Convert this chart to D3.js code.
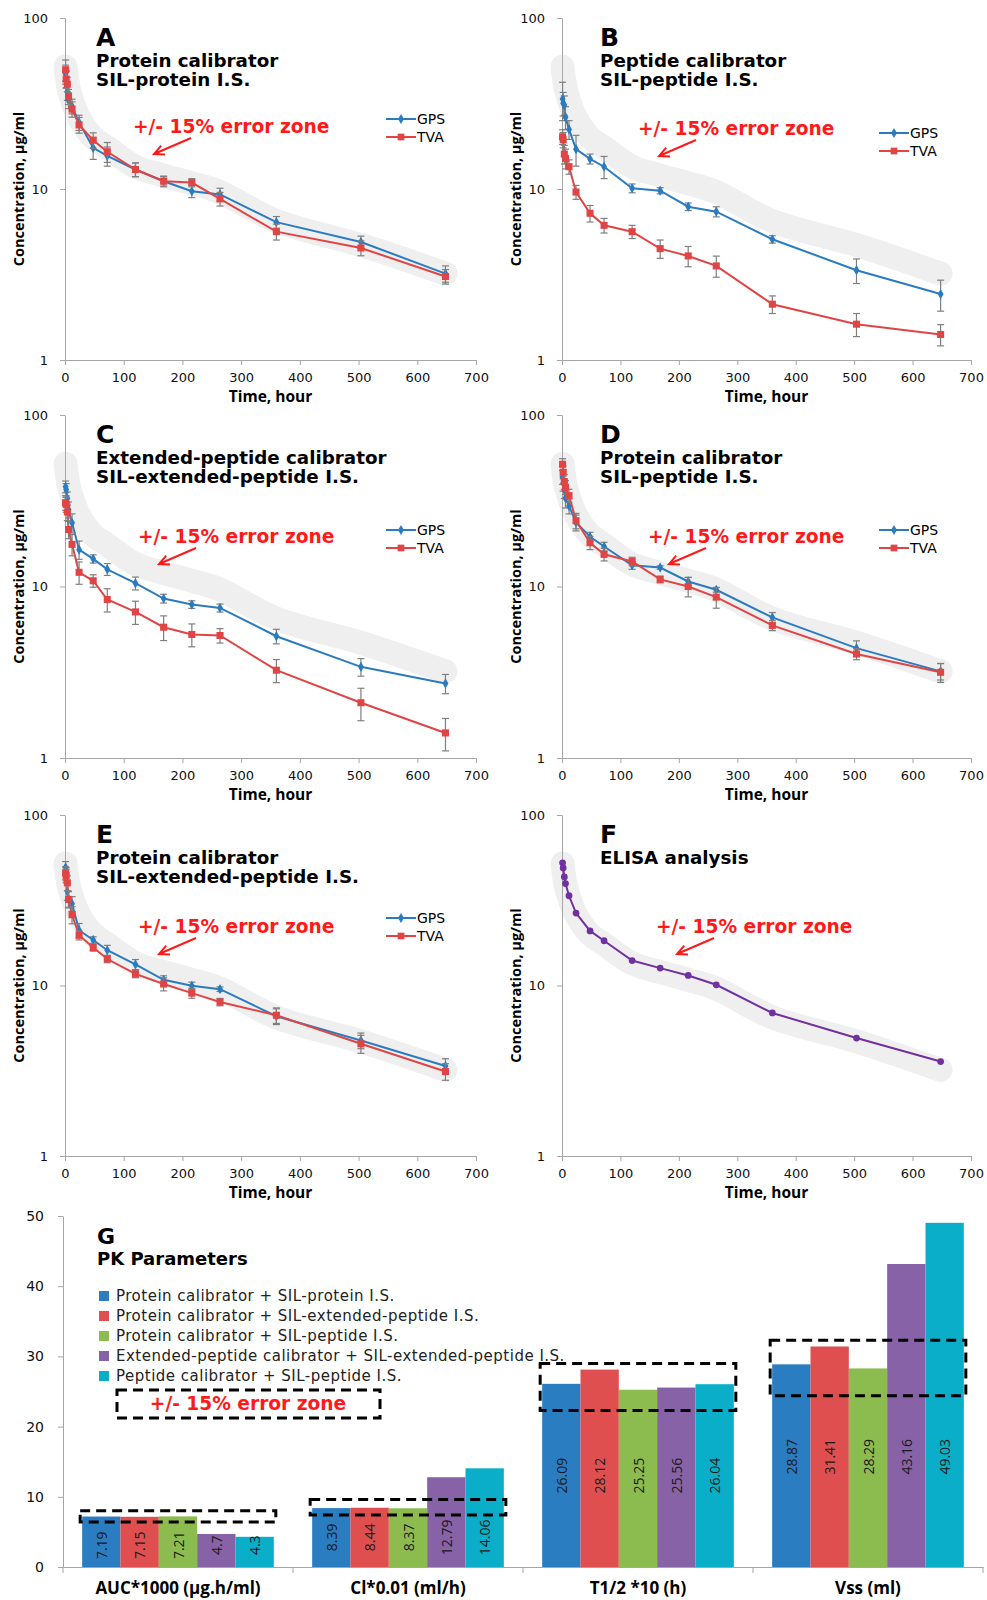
<!DOCTYPE html>
<meta charset="utf-8">
<head>
  <title>pk-panels</title>
</head>
<style>
  body { margin: 0; background: #fff; }
  .ax path, .ax line { stroke: #a6a6a6; }
  .ax text { font-family: "DejaVu Sans"; font-size: 13px; fill: #111; }
  .bax text { font-family: "DejaVu Sans"; font-size: 14px; fill: #111; }
  .cat text { font-family: "Open Sans"; font-weight: bold; font-size: 17px; fill: #000; }
</style>
<body>
<svg id="chart" width="987" height="1600"></svg>

<script src="https://cdnjs.cloudflare.com/ajax/libs/d3/7.8.5/d3.min.js"></script>
<script>
// sampling times (hours)
var times = [1, 2, 4, 6, 12, 24, 48, 72, 120, 168, 216, 264, 360, 504, 648];
var xTicks = [0, 100, 200, 300, 400, 500, 600, 700];
var yTicks = [1, 10, 100];

var elisa = [52.4, 48.9, 43.3, 39.6, 33.6, 26.6, 20.9, 18.3, 14.0, 12.65, 11.45, 10.1, 6.9, 4.92, 3.58];
// centre of the grey +/-15% band
var zoneCenter = [52, 48, 43, 39, 33, 26, 20, 17.5, 13.5, 12, 10.8, 9.6, 6.5, 4.7, 3.2];

var gpsA = [47, 44, 37, 33, 30.5, 24.5, 17.4, 15.6, 13.0, 11.1, 9.7, 9.3, 6.4, 4.9, 3.2];
var gpsAErr = [6, 5, 4, 3.5, 3, 2.5, 2.5, 2, 1.2, 0.8, 0.8, 0.8, 0.5, 0.4, 0.35];
var tvaA = [49.8, 43.9, 41.0, 34.7, 29.3, 23.7, 19.3, 16.5, 13.0, 11.1, 10.9, 8.75, 5.63, 4.52, 3.08];
var tvaAErr = [7, 5, 4, 3.5, 3, 2.5, 2, 2.2, 1.2, 0.7, 0.6, 0.8, 0.6, 0.45, 0.3];

var gpsB = [33.6, 31.7, 31.0, 26.3, 22.3, 17.1, 15.0, 13.5, 10.1, 9.78, 7.88, 7.37, 5.08, 3.35, 2.43];
var gpsBErr = [8.5, 5, 4, 4, 2.8, 3.5, 1, 2, 0.6, 0.4, 0.4, 0.5, 0.25, 0.55, 0.5];
var tvaB = [20.2, 19.4, 16.0, 15.1, 13.5, 9.6, 7.21, 6.13, 5.63, 4.48, 4.06, 3.55, 2.12, 1.62, 1.41];
var tvaBErr = [2, 2, 2, 2, 1.3, 0.9, 0.8, 0.6, 0.5, 0.55, 0.55, 0.5, 0.25, 0.25, 0.2];

var gpsC = [38.2, 36.8, 32.6, 28.1, 23.5, 16.4, 14.5, 12.6, 10.45, 8.51, 7.85, 7.5, 5.13, 3.40, 2.72];
var gpsCErr = [3, 3, 3, 3, 3, 2, 0.8, 1.0, 0.9, 0.5, 0.4, 0.4, 0.5, 0.4, 0.35];
var tvaC = [30.8, 30.1, 27.2, 21.5, 17.6, 12.1, 10.8, 8.4, 7.11, 5.79, 5.25, 5.18, 3.25, 2.10, 1.40];
var tvaCErr = [3, 3, 3, 2.5, 2.5, 1.8, 0.9, 1.3, 1.1, 0.95, 0.8, 0.5, 0.5, 0.45, 0.3];

var gpsD = [43.4, 40.0, 36.6, 32.7, 29.5, 23.6, 19.5, 17.1, 13.3, 12.9, 10.7, 9.57, 6.6, 4.37, 3.2];
var gpsDErr = [4, 4, 4, 4, 3, 2.5, 1.2, 1, 0.7, 0.3, 0.6, 0.3, 0.45, 0.45, 0.35];
var tvaD = [51.6, 46.4, 40.9, 37.9, 33.9, 24.2, 18.0, 15.4, 14.0, 11.0, 10.0, 8.67, 5.93, 4.04, 3.16];
var tvaDErr = [4, 4, 4, 3.5, 3, 2.5, 1.6, 1.3, 0.8, 0.5, 1.3, 1.2, 0.4, 0.3, 0.4];

var gpsE = [49.3, 45.1, 35.6, 32.3, 30.2, 21.1, 18.5, 16.1, 13.3, 10.8, 9.96, 9.52, 6.6, 4.76, 3.37];
var gpsEErr = [4, 4, 4, 3.5, 3, 2, 0.8, 1.1, 0.9, 0.6, 0.5, 0.3, 0.7, 0.5, 0.35];
var tvaE = [45.7, 44.1, 40.0, 32.0, 26.0, 19.7, 16.7, 14.3, 11.7, 10.2, 9.02, 8.0, 6.69, 4.55, 3.13];
var tvaEErr = [4, 4, 4, 3.5, 3, 1.2, 0.8, 0.7, 0.6, 0.9, 0.6, 0.4, 0.7, 0.55, 0.35];

// panel G
var pkParams = ["AUC*1000 (µg.h/ml)", "Cl*0.01 (ml/h)", "T1/2 *10 (h)", "Vss (ml)"];
var methods = [
  "Protein calibrator + SIL-protein I.S.",
  "Protein calibrator + SIL-extended-peptide I.S.",
  "Protein calibrator + SIL-peptide I.S.",
  "Extended-peptide calibrator + SIL-extended-peptide I.S.",
  "Peptide calibrator + SIL-peptide I.S."
];
var pkValues = [
  [7.19, 7.15, 7.21, 4.7, 4.3],
  [8.39, 8.44, 8.37, 12.79, 14.06],
  [26.09, 28.12, 25.25, 25.56, 26.04],
  [28.87, 31.41, 28.29, 43.16, 49.03]
];
var zoneLow = [6.4, 7.4, 22.3, 24.4];
var zoneHigh = [8.0, 9.6, 29.0, 32.3];
var barTicks = [0, 10, 20, 30, 40, 50];

var methodColors = ["#2a7dc1", "#e04f4f", "#8cbc4f", "#8862a6", "#0aaec8"];
var gpsColor = "#2a7bc0", tvaColor = "#e04444", elisaColor = "#7030a0";

var svg = d3.select("#chart");
svg.append("rect").attr("width", 987).attr("height", 1600).attr("fill", "#fff");

var cols = [{x0: 65, x1: 476, lx: 96, legX: 386}, {x0: 562, x1: 971, lx: 600, legX: 879}];
var rows = [{top: 18, bottom: 360}, {top: 415, bottom: 758}, {top: 815, bottom: 1156}];

var panels = [
  {letter: "A", title: ["Protein calibrator", "SIL-protein I.S."], col: 0, row: 0,
   gps: gpsA, gpsErr: gpsAErr, tva: tvaA, tvaErr: tvaAErr, annX: 133, annDy: 115, legDy: 101},
  {letter: "B", title: ["Peptide calibrator", "SIL-peptide I.S."], col: 1, row: 0,
   gps: gpsB, gpsErr: gpsBErr, tva: tvaB, tvaErr: tvaBErr, annX: 638, annDy: 117, legDy: 115},
  {letter: "C", title: ["Extended-peptide calibrator", "SIL-extended-peptide I.S."], col: 0, row: 1,
   gps: gpsC, gpsErr: gpsCErr, tva: tvaC, tvaErr: tvaCErr, annX: 138, annDy: 128, legDy: 115},
  {letter: "D", title: ["Protein calibrator", "SIL-peptide I.S."], col: 1, row: 1,
   gps: gpsD, gpsErr: gpsDErr, tva: tvaD, tvaErr: tvaDErr, annX: 648, annDy: 128, legDy: 115},
  {letter: "E", title: ["Protein calibrator", "SIL-extended-peptide I.S."], col: 0, row: 2,
   gps: gpsE, gpsErr: gpsEErr, tva: tvaE, tvaErr: tvaEErr, annX: 138, annDy: 118, legDy: 103},
  {letter: "F", title: ["ELISA analysis"], col: 1, row: 2, elisa: elisa, annX: 656, annDy: 118}
];

panels.forEach(function(p) {
  var c = cols[p.col], r = rows[p.row];
  var x = d3.scaleLinear().domain([0, 700]).range([c.x0, c.x1]);
  var y = d3.scaleLog().domain([1, 100]).range([r.bottom, r.top]);
  var g = svg.append("g");

  // grey +/-15% zone
  g.append("path")
    .datum(times.map(function(t, i) { return [t, zoneCenter[i]]; }))
    .attr("d", d3.line().x(function(d) { return x(d[0]); }).y(function(d) { return y(d[1]); })
      .curve(d3.curveCatmullRom))
    .attr("fill", "none").attr("stroke", "#efefef").attr("stroke-width", 24)
    .attr("stroke-linecap", "round").attr("stroke-linejoin", "round");

  g.append("g").attr("class", "ax")
    .attr("transform", "translate(0," + r.bottom + ")")
    .call(d3.axisBottom(x).tickValues(xTicks).tickSize(5).tickSizeOuter(0).tickPadding(8));
  g.append("g").attr("class", "ax")
    .attr("transform", "translate(" + c.x0 + ",0)")
    .call(d3.axisLeft(y).tickValues(yTicks).tickFormat(d3.format("d")).tickSize(5).tickSizeOuter(0).tickPadding(12));

  g.append("text").text("Time, hour")
    .attr("x", (c.x0 + c.x1) / 2).attr("y", r.bottom + 42)
    .attr("text-anchor", "middle")
    .style("font-family", "Open Sans").style("font-weight", "bold").style("font-size", "15.5px");
  g.append("text").text("Concentration, µg/ml")
    .attr("transform", "translate(" + (c.x0 - 47) + "," + ((r.top + r.bottom) / 2) + ") rotate(-90)")
    .attr("text-anchor", "middle").attr("dominant-baseline", "central")
    .style("font-family", "Open Sans").style("font-weight", "bold").style("font-size", "14.5px");

  g.append("text").text(p.letter)
    .attr("x", c.lx).attr("y", r.top + 28)
    .style("font-family", "DejaVu Sans").style("font-weight", "bold").style("font-size", "25px");
  p.title.forEach(function(t, i) {
    g.append("text").text(t)
      .attr("x", c.lx).attr("y", r.top + 49 + i * 18.5)
      .style("font-family", "DejaVu Sans").style("font-weight", "bold").style("font-size", "18.3px");
  });

  // annotation
  var ay = r.top + p.annDy;
  g.append("text").text("+/- 15% error zone")
    .attr("x", p.annX).attr("y", ay)
    .attr("fill", "#ff1a1a")
    .style("font-family", "DejaVu Sans").style("font-weight", "bold").style("font-size", "18.6px");
  var sx = p.annX + 58, sy = ay + 5, ex = p.annX + 21, ey = ay + 21;
  var ang = Math.atan2(ey - sy, ex - sx), hl = 11;
  g.append("path")
    .attr("d", "M" + sx + "," + sy + "L" + ex + "," + ey +
      "M" + (ex - hl * Math.cos(ang - 0.45)) + "," + (ey - hl * Math.sin(ang - 0.45)) +
      "L" + ex + "," + ey +
      "L" + (ex - hl * Math.cos(ang + 0.45)) + "," + (ey - hl * Math.sin(ang + 0.45)))
    .attr("fill", "none").attr("stroke", "#ff1a1a").attr("stroke-width", 2);

  var line = d3.line().x(function(d) { return x(d.t); }).y(function(d) { return y(d.v); });

  function series(vals, errs, color, symbol, size) {
    var data = times.map(function(t, i) { return {t: t, v: vals[i], e: errs ? errs[i] : 0}; });
    g.append("path").datum(data).attr("d", line)
      .attr("fill", "none").attr("stroke", color).attr("stroke-width", 2);
    if (errs) {
      var eb = g.append("g").attr("stroke", "#7f7f7f").attr("stroke-width", 1.2);
      data.forEach(function(d) {
        var y1 = y(d.v + d.e), y2 = y(Math.max(d.v - d.e, 1.01)), xx = x(d.t);
        eb.append("line").attr("x1", xx).attr("x2", xx).attr("y1", y1).attr("y2", y2);
        eb.append("line").attr("x1", xx - 3.5).attr("x2", xx + 3.5).attr("y1", y1).attr("y2", y1);
        eb.append("line").attr("x1", xx - 3.5).attr("x2", xx + 3.5).attr("y1", y2).attr("y2", y2);
      });
    }
    g.selectAll(null).data(data).enter().append("path")
      .attr("d", d3.symbol().type(symbol).size(size))
      .attr("transform", function(d) { return "translate(" + x(d.t) + "," + y(d.v) + ")"; })
      .attr("fill", color);
  }

  if (p.elisa) {
    series(p.elisa, null, elisaColor, d3.symbolCircle, 36);
  } else {
    series(p.gps, p.gpsErr, gpsColor, d3.symbolDiamond, 30);
    series(p.tva, p.tvaErr, tvaColor, d3.symbolSquare, 50);

    var leg = [{name: "GPS", color: gpsColor, sym: d3.symbolDiamond, size: 30},
               {name: "TVA", color: tvaColor, sym: d3.symbolSquare, size: 45}];
    leg.forEach(function(l, i) {
      var ly = r.top + p.legDy + i * 18;
      g.append("line").attr("x1", c.legX).attr("x2", c.legX + 30).attr("y1", ly).attr("y2", ly)
        .attr("stroke", l.color).attr("stroke-width", 2);
      g.append("path").attr("d", d3.symbol().type(l.sym).size(l.size))
        .attr("transform", "translate(" + (c.legX + 15) + "," + ly + ")").attr("fill", l.color);
      g.append("text").text(l.name).attr("x", c.legX + 31).attr("y", ly)
        .attr("dominant-baseline", "central")
        .style("font-family", "DejaVu Sans").style("font-size", "14px");
    });
  }
});

// ---------- panel G: bar chart ----------
var gb = svg.append("g");
var bx0 = d3.scaleBand().domain(pkParams).range([63, 983]);
var bx1 = d3.scaleBand().domain(methods).range([0, bx0.bandwidth()]).paddingOuter(0.5);
var by = d3.scaleLinear().domain([0, 50]).range([1567, 1216]);

gb.append("g").attr("class", "ax bax")
  .attr("transform", "translate(63,0)")
  .call(d3.axisLeft(by).tickValues(barTicks).tickSize(5).tickSizeOuter(0).tickPadding(14));

var groups = gb.selectAll(".grp").data(pkValues).enter().append("g")
  .attr("transform", function(d, i) { return "translate(" + bx0(pkParams[i]) + ",0)"; });

groups.selectAll("rect").data(function(d) { return d; }).enter().append("rect")
  .attr("x", function(d, i) { return bx1(methods[i]); })
  .attr("width", bx1.bandwidth())
  .attr("y", function(d) { return by(d); })
  .attr("height", function(d) { return by(0) - by(d); })
  .attr("fill", function(d, i) { return methodColors[i]; });

groups.each(function(vals, gi) {
  var labelY = by(Math.min(d3.median(vals) / 2, d3.min(vals) * 0.72));
  d3.select(this).selectAll("text.val").data(vals).enter().append("text")
    .attr("class", "val")
    .text(function(d) { return d; })
    .attr("transform", function(d, i) {
      return "translate(" + (bx1(methods[i]) + bx1.bandwidth() / 2) + "," + labelY + ") rotate(-90)";
    })
    .attr("text-anchor", "middle").attr("dominant-baseline", "central")
    .attr("fill", "#1a1a1a")
    .style("font-family", "Open Sans").style("font-size", "14px");
  // dashed +/-15% box
  d3.select(this).append("rect")
    .attr("x", bx1(methods[0]) - 2)
    .attr("width", bx1.bandwidth() * methods.length + 4)
    .attr("y", by(zoneHigh[gi]))
    .attr("height", by(zoneLow[gi]) - by(zoneHigh[gi]))
    .attr("fill", "none").attr("stroke", "#000").attr("stroke-width", 3)
    .attr("stroke-dasharray", "10,6");
});

// x axis with category labels
var xa = gb.append("g").attr("class", "ax cat")
  .attr("transform", "translate(0,1567)")
  .call(d3.axisBottom(bx0).tickSize(0).tickPadding(15));
xa.select(".domain").attr("stroke", "#a6a6a6");
gb.selectAll(".sep").data(d3.range(pkParams.length + 1)).enter().append("line")
  .attr("x1", function(i) { return 63 + i * bx0.step(); })
  .attr("x2", function(i) { return 63 + i * bx0.step(); })
  .attr("y1", 1567).attr("y2", 1573).attr("stroke", "#a6a6a6");

gb.append("text").text("G").attr("x", 97).attr("y", 1244)
  .style("font-family", "DejaVu Sans").style("font-weight", "bold").style("font-size", "22px");
gb.append("text").text("PK Parameters").attr("x", 97).attr("y", 1265)
  .style("font-family", "DejaVu Sans").style("font-weight", "bold").style("font-size", "18px");

methods.forEach(function(m, i) {
  var ly = 1296 + i * 20;
  gb.append("rect").attr("x", 99).attr("y", ly - 5).attr("width", 10).attr("height", 10)
    .attr("fill", methodColors[i]);
  gb.append("text").text(m).attr("x", 116).attr("y", ly)
    .attr("dominant-baseline", "central").attr("fill", "#222")
    .style("font-family", "DejaVu Sans").style("font-size", "15px").style("letter-spacing", "0.5px");
});

gb.append("rect").attr("x", 117).attr("y", 1390).attr("width", 263).attr("height", 28)
  .attr("fill", "none").attr("stroke", "#000").attr("stroke-width", 3).attr("stroke-dasharray", "10,6");
gb.append("text").text("+/- 15% error zone").attr("x", 248).attr("y", 1410)
  .attr("text-anchor", "middle").attr("fill", "#ff1a1a")
  .style("font-family", "DejaVu Sans").style("font-weight", "bold").style("font-size", "18.6px");
</script>
</body>
